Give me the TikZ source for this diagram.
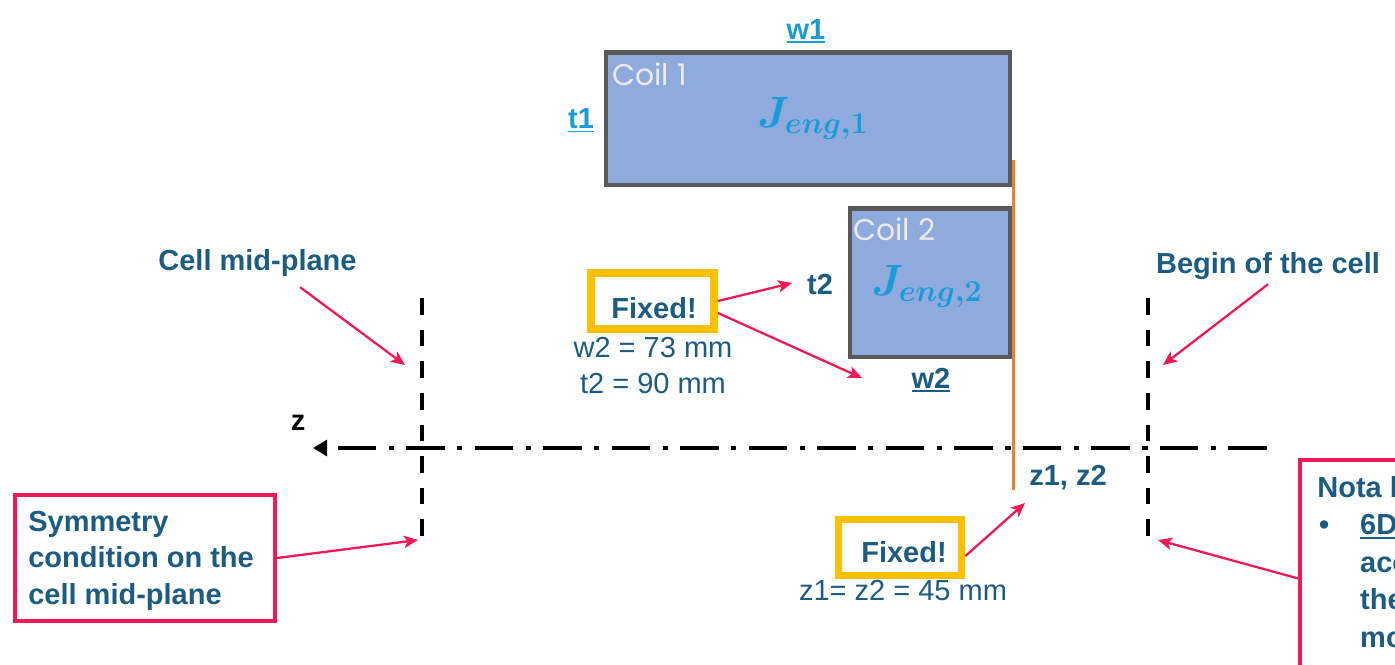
\documentclass[tikz,border=0pt]{standalone}
\usepackage{fontspec}
\setmainfont{Liberation Sans}
\newfontfamily\coilfont{Poppins}
\usetikzlibrary{arrows.meta}

\definecolor{cellblue}{RGB}{28,92,128}
\definecolor{dimcyan}{RGB}{25,155,215}
\definecolor{coilfill}{RGB}{143,170,220}
\definecolor{coilgray}{RGB}{89,89,89}
\definecolor{fixyellow}{RGB}{255,192,0}
\definecolor{notered}{RGB}{240,25,85}
\definecolor{zorange}{RGB}{237,125,49}

\newcommand{\ulin}[1]{\vtop{\hbox{#1}\kern1.3pt\hrule height 1.1pt}}

\begin{document}
\begin{tikzpicture}[x=0.02cm,y=-0.02cm,
		lbl/.style={font=\fontsize{16.5}{20.7}\selectfont\bfseries, text=cellblue, inner sep=1pt},
		val/.style={font=\fontsize{16.5}{20}\selectfont, text=cellblue, inner sep=1pt},
		coillbl/.style={font=\fontsize{17}{20}\coilfont, text=black!8, inner sep=0pt},
		jlbl/.style={font=\fontsize{23}{27}\selectfont\boldmath, text=dimcyan, inner sep=0pt},
		coil/.style={draw=coilgray, fill=coilfill, line width=2.8pt},
		fixbox/.style={draw=fixyellow, fill=white, line width=4.5pt, minimum width=2.46cm, minimum height=1.12cm},
		notebox/.style={draw=notered, line width=2.2pt},
		redarrow/.style={draw=notered, line width=1.3pt, -{Stealth[length=8pt,width=7pt,inset=2pt]}},
		cutline/.style={line width=2pt, dash pattern=on 9.5pt off 8.5pt},
		axisline/.style={line width=2.2pt, dash pattern=on 22pt off 7pt on 3pt off 7pt, -{Triangle[length=8pt,width=9pt]}}]
	
	\useasboundingbox (0,0) rectangle (1395,664);
	
	% the two coils
	\draw[coil] (606,52.5) rectangle (1010,185);
	\draw[coil] (850,208.5) rectangle (1010,357);
	\node[coillbl, anchor=base west] (coilA) at (612,85) {Coil 1};
	\node[jlbl, anchor=base] (jA) at (813,127) {$J_{eng,1}$};
	\node[coillbl, anchor=base west] (coilB) at (853,240) {Coil 2};
	\node[jlbl, anchor=base] (jB) at (927,295) {$J_{eng,2}$};
	
	\node[lbl, text=dimcyan, anchor=base] (w1) at (806,39) {\ulin{w1}};
	\node[lbl, text=dimcyan, anchor=base] (t1) at (581,128) {\ulin{t1}};
	\node[lbl, anchor=base] (t2) at (820,294) {t2};
	\node[lbl, anchor=base] (w2) at (931,388) {\ulin{w2}};
	
	% z1 = z2
	\draw[draw=zorange, line width=1.4pt] (1013.5,160) -- (1013.5,490);
	
	% mid-plane and begin of the cell
	\coordinate (midtop) at (422,298);
	\coordinate (midbot) at (422,542);
	\coordinate (begtop) at (1148,298);
	\coordinate (begbot) at (1148,542);
	\draw[cutline] (midtop) -- (midbot);
	\draw[cutline] (begtop) -- (begbot);
	
	% z axis
	\coordinate (axR) at (1267,448);
	\coordinate (axL) at (313,448);
	\draw[axisline] (axR) -- (axL);
	\node[lbl, text=black, anchor=base] (zlbl) at (298,430) {z};
	
	% fixed values
	\node[fixbox] (fixA) at (652.5,301) {};
	\node[lbl, anchor=base] (fixAtxt) at (654,318) {Fixed!};
	\node[val, anchor=base] (wval) at (653,357) {w2 = 73 mm};
	\node[val, anchor=base] (tval) at (653,393) {t2 = 90 mm};
	
	\node[fixbox] (fixB) at (900,547.5) {};
	\node[lbl, anchor=base] (fixBtxt) at (904,562) {Fixed!};
	\node[val, anchor=base] (zval) at (903,600) {z1= z2 = 45 mm};
	\node[lbl, anchor=base] (z12) at (1068,485) {z1, z2};
	
	\coordinate (t2tip) at (792,283);
	\coordinate (w2tip) at (862,378);
	\coordinate (ztip) at (1025,503);
	\draw[redarrow] (fixA.east) -- (t2tip);
	\draw[redarrow] ([yshift=-0.24cm]fixA.east) -- (w2tip);
	\draw[redarrow] ([yshift=-0.17cm]fixB.east) -- (ztip);
	
	% plane labels
	\node[lbl, anchor=base] (midlbl) at (257.5,270) {Cell mid-plane};
	\node[lbl, anchor=base] (beglbl) at (1268,273) {Begin of the cell};
	\coordinate (midtip) at (405,365);
	\coordinate (begtip) at (1163,365);
	\draw[redarrow] ([xshift=0.85cm,yshift=-0.18cm]midlbl.south) -- (midtip);
	\draw[redarrow] ([yshift=-0.06cm]beglbl.south) -- (begtip);
	
	% notes
	\node[notebox, minimum width=5.2cm, minimum height=2.52cm] (sym) at (145,558) {};
	\node[lbl, anchor=north west, align=left, inner sep=0pt] (symtxt) at (28,511) {Symmetry\\condition on the\\cell mid-plane};
	\coordinate (symtip) at (418,540);
	\draw[redarrow] (sym.east) -- (symtip);
	
	\begin{scope}
		\clip (0,0) rectangle (1395,664);
		\node[notebox, anchor=north west, minimum width=3cm, minimum height=4.74cm] (nota) at (1298,458) {};
		\node[lbl, font=\fontsize{16.5}{21.3}\selectfont\bfseries, anchor=north west, align=left, inner sep=0pt] (notatxt) at (1317,476) {Nota b\\\makebox[24.4pt][l]{\hspace*{1pt}•}\ulin{6D}\\\hspace*{24.4pt}acc\\\hspace*{24.4pt}the\\\hspace*{24.4pt}mo};
	\end{scope}
	\coordinate (notatip) at (1158,540);
	\draw[redarrow] (nota.west) -- (notatip);
\end{tikzpicture}
\end{document}
